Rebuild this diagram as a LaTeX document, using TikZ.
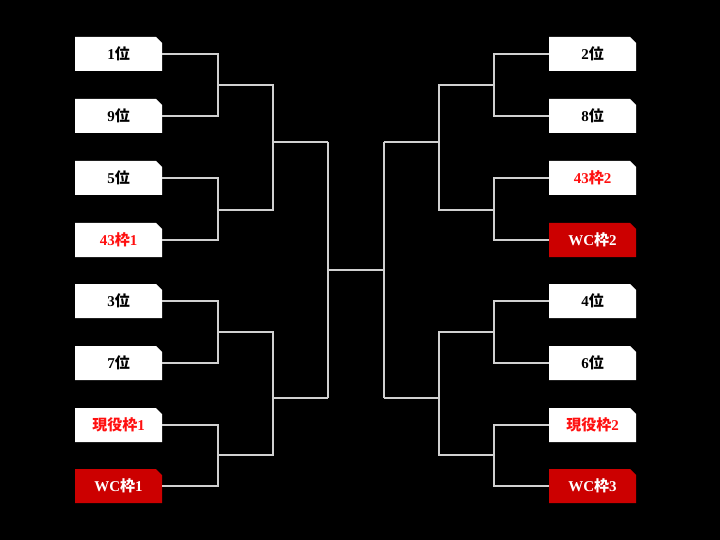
\documentclass[tikz,border=0pt]{standalone}
\usepackage{fontspec}
\setmainfont{Liberation Serif}
\newfontfamily\jp{Noto Sans CJK JP}
\definecolor{redtext}{HTML}{FF1010}
\definecolor{redbox}{HTML}{CC0000}
\definecolor{linegray}{HTML}{D0D0D0}
\newcommand\J[1]{{\jp #1}}
\tikzset{
  box/.style={minimum width=87pt, minimum height=34pt, inner sep=0pt, outer sep=0pt,
    font=\fontsize{15}{15}\selectfont\bfseries,
    path picture={\fill[#1] (path picture bounding box.south west) -- (path picture bounding box.north west)
      -- ([xshift=-6pt]path picture bounding box.north east) -- ([yshift=-6pt]path picture bounding box.north east)
      -- (path picture bounding box.south east) -- cycle;}},
  wbox/.style={box=white, text=black},
  rwbox/.style={box=white, text=redtext},
  rbox/.style={box=redbox, text=white},
  conn/.style={draw=linegray, line width=1.2pt}
}
\begin{document}
\begin{tikzpicture}[x=1pt,y=-1pt]
\useasboundingbox (0,0) rectangle (720,540);
\fill[black] (0,0) rectangle (720,540);
% left boxes
\node[wbox]  (L1) at (118.5,54)  {1\J{位}};
\node[wbox]  (L2) at (118.5,116) {9\J{位}};
\node[wbox]  (L3) at (118.5,178) {5\J{位}};
\node[rwbox] (L4) at (118.5,240) {43\J{枠}1};
\node[wbox]  (L5) at (118.5,301) {3\J{位}};
\node[wbox]  (L6) at (118.5,363) {7\J{位}};
\node[rwbox] (L7) at (118.5,425) {\J{現役枠}1};
\node[rbox]  (L8) at (118.5,486) {WC\J{枠}1};
% right boxes
\node[wbox]  (R1) at (592.5,54)  {2\J{位}};
\node[wbox]  (R2) at (592.5,116) {8\J{位}};
\node[rwbox] (R3) at (592.5,178) {43\J{枠}2};
\node[rbox]  (R4) at (592.5,240) {WC\J{枠}2};
\node[wbox]  (R5) at (592.5,301) {4\J{位}};
\node[wbox]  (R6) at (592.5,363) {6\J{位}};
\node[rwbox] (R7) at (592.5,425) {\J{現役枠}2};
\node[rbox]  (R8) at (592.5,486) {WC\J{枠}3};
% junction coordinates
\coordinate (la1) at (218,85);
\coordinate (la2) at (218,210);
\coordinate (la3) at (218,332);
\coordinate (la4) at (218,455);
\coordinate (lb1) at (273,142);
\coordinate (lb2) at (273,398);
\coordinate (lc1) at (328,142);
\coordinate (lc2) at (328,398);
\coordinate (lf) at (328,270);
\coordinate (ra1) at (494,85);
\coordinate (ra2) at (494,210);
\coordinate (ra3) at (494,332);
\coordinate (ra4) at (494,455);
\coordinate (rb1) at (439,142);
\coordinate (rb2) at (439,398);
\coordinate (rc1) at (384,142);
\coordinate (rc2) at (384,398);
\coordinate (rf) at (384,270);
% left round 1
\draw[conn] (L1.east) -| (la1) |- (L2.east);
\draw[conn] (L3.east) -| (la2) |- (L4.east);
\draw[conn] (L5.east) -| (la3) |- (L6.east);
\draw[conn] (L7.east) -| (la4) |- (L8.east);
% left round 2
\draw[conn] (la1) -| (lb1) |- (la2);
\draw[conn] (la3) -| (lb2) |- (la4);
\draw[conn] (lb1) -- (lc1);
\draw[conn] (lb2) -- (lc2);
\draw[conn] (lc1) -- (lc2);
% right round 1
\draw[conn] (R1.west) -| (ra1) |- (R2.west);
\draw[conn] (R3.west) -| (ra2) |- (R4.west);
\draw[conn] (R5.west) -| (ra3) |- (R6.west);
\draw[conn] (R7.west) -| (ra4) |- (R8.west);
% right round 2
\draw[conn] (ra1) -| (rb1) |- (ra2);
\draw[conn] (ra3) -| (rb2) |- (ra4);
\draw[conn] (rb1) -- (rc1);
\draw[conn] (rb2) -- (rc2);
\draw[conn] (rc1) -- (rc2);
% final
\draw[conn] (lf) -- (rf);
\end{tikzpicture}
\end{document}
